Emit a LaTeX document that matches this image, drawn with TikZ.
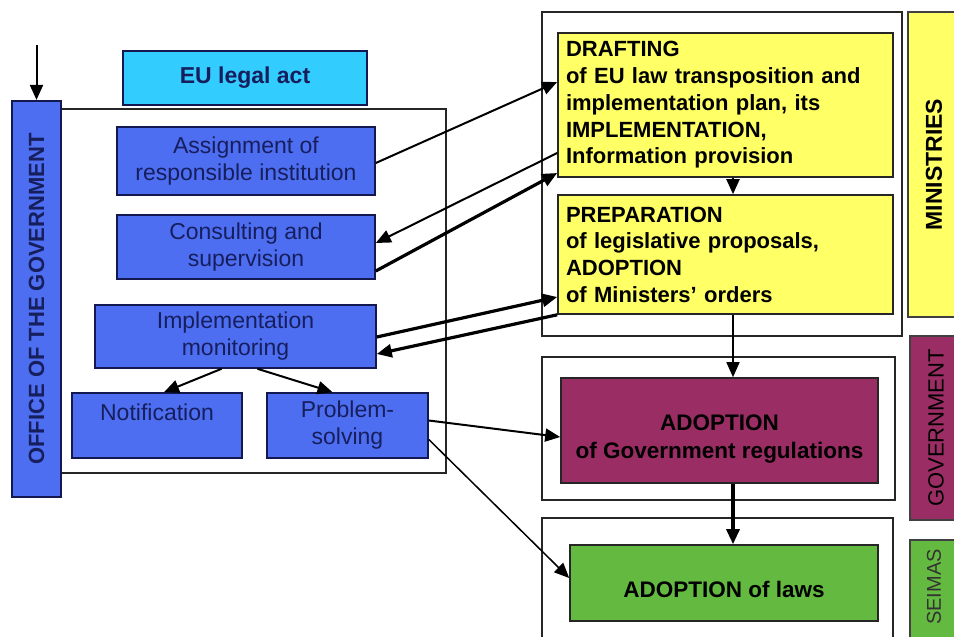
\documentclass[tikz,border=0pt]{standalone}
\usepackage{fontspec}
\setmainfont{Liberation Sans}
\usepackage{xcolor}
\usetikzlibrary{arrows.meta, calc}

\definecolor{offblue}{RGB}{78,110,242}
\definecolor{navyline}{RGB}{20,24,80}
\definecolor{navytext}{RGB}{22,30,92}
\definecolor{eucyan}{RGB}{51,204,255}
\definecolor{minyellow}{RGB}{255,255,102}
\definecolor{govpurple}{RGB}{153,45,100}
\definecolor{seigreen}{RGB}{100,186,64}

\begin{document}
\begin{tikzpicture}[x=1pt, y=-1pt,
    bbox/.style={draw=navyline, line width=1.6pt, fill=offblue, text=navytext, align=center, inner sep=0pt, font=\fontsize{23}{27}\selectfont},
    ybox/.style={draw=black!85, line width=1.6pt, fill=minyellow, align=left, text width=319pt, inner xsep=8pt, inner ysep=0pt, minimum width=335pt, font=\bfseries\fontsize{22}{26.7}\selectfont},
    rbox/.style={draw=black!85, line width=1.6pt, align=center, inner sep=0pt, font=\bfseries\fontsize{22.5}{28}\selectfont},
    side/.style={rotate=90, draw=black!75, line width=1.2pt, inner sep=0pt},
    frame/.style={draw=black!85, line width=1.6pt},
    arrow/.style={-{Triangle[length=15pt, width=13pt]}, line width=2pt},
    bigarrow/.style={-{Triangle[length=15pt, width=13pt]}, line width=3.2pt},
]
\useasboundingbox (0,0) rectangle (954,637);

% frames
\draw[frame] (61,109) rectangle (446,473);
\draw[frame] (542,12) rectangle (902,336);
\draw[frame] (542,357) rectangle (895,500);
\draw[frame] (542,518) rectangle (893,650);

% left side
\node[draw=navyline, line width=1.6pt, fill=eucyan, minimum width=244pt, minimum height=54pt, inner sep=0pt,
      font=\bfseries\fontsize{23}{27}\selectfont, text=navytext] (eu) at (245,78) {EU legal act};
\node[side, draw=navyline, line width=2.2pt, fill=offblue, minimum width=396pt, minimum height=49pt,
      font=\bfseries\fontsize{22}{26}\selectfont, text=navytext] (office) at (36.5,299) {OFFICE OF THE GOVERNMENT};
\coordinate (entry) at (36.5,45);

\node[bbox, minimum width=258pt, minimum height=68pt] (assign) at (246,161) {Assignment of\\responsible institution};
\node[bbox, minimum width=258pt, minimum height=64pt] (consult) at (246,247) {Consulting and\\supervision};
\node[bbox, minimum width=281pt, minimum height=63pt] (monitor) at (235.5,336.5) {Implementation\\monitoring};
\node[bbox, minimum width=170pt, minimum height=65pt] (notif) at (157,425.5) {Notification\\\phantom{x}};
\node[bbox, minimum width=161pt, minimum height=65pt] (probl) at (347.5,425.5) {Problem-\\solving};

% right side
\node[ybox, minimum height=144pt] (draft) at (725.5,105) {DRAFTING\\of EU law transposition and\\implementation plan, its\\IMPLEMENTATION,\\Information provision};
\node[ybox, minimum height=119pt] (prep) at (725.5,254.5) {PREPARATION\\of legislative proposals,\\ADOPTION\\of Ministers' orders};
\node[rbox, fill=govpurple, minimum width=317pt, minimum height=105pt, text height=55pt, text depth=0pt] (govreg) at (719.5,430.5) {ADOPTION\\of Government regulations};
\node[rbox, fill=seigreen, minimum width=308pt, minimum height=76pt, text height=28pt, text depth=0pt] (laws) at (724,583) {ADOPTION of laws};

\node[side, fill=minyellow, minimum width=305pt, minimum height=52pt, font=\bfseries\fontsize{23}{26}\selectfont] (minlab) at (934,164.5) {MINISTRIES};
\node[side, fill=govpurple, minimum width=184pt, minimum height=52pt, font=\fontsize{22}{26}\selectfont] (govlab) at (936,428) {GOVERNMENT};
\filldraw[fill=seigreen, draw=black!75, line width=1.2pt] (910,540) rectangle (962,650);
\node[rotate=90, font=\fontsize{20}{24}\selectfont, text=black!80] (seilab) at (934,587) {SEIMAS};

% connectors
\coordinate (vx) at (733,0);
\draw[arrow] (entry) -- (office.east);
\draw[arrow] ($(assign.east)+(0,2)$) -- ($(draft.west)+(0,-23)$);
\draw[arrow] ($(draft.west)+(0,48)$) -- ($(consult.east)+(0,-4)$);
\draw[bigarrow] ($(consult.east)+(0,24)$) -- ($(draft.west)+(0,68)$);
\draw[bigarrow] ($(monitor.east)+(0,0.5)$) -- ($(prep.west)+(0,42.5)$);
\draw[bigarrow] (prep.south west) -- ($(monitor.east)+(0,17.5)$);
\draw[arrow] (draft.south -| vx) -- (prep.north -| vx);
\draw[arrow, line width=1.5pt] (prep.south -| vx) -- (govreg.north -| vx);
\draw[bigarrow] (govreg.south -| vx) -- (laws.north -| vx);
\draw[arrow] ($(monitor.south)+(-14,0)$) -- ($(notif.north)+(7,0)$);
\draw[arrow] ($(monitor.south)+(22,0)$) -- ($(probl.north)+(-15,0)$);
\draw[arrow] ($(probl.east)+(0,-5)$) -- ($(govreg.west)+(0,6.5)$);
\draw[arrow, line width=1.5pt] ($(probl.east)+(0,14)$) -- ($(laws.west)+(0,-5)$);

\end{tikzpicture}
\end{document}
